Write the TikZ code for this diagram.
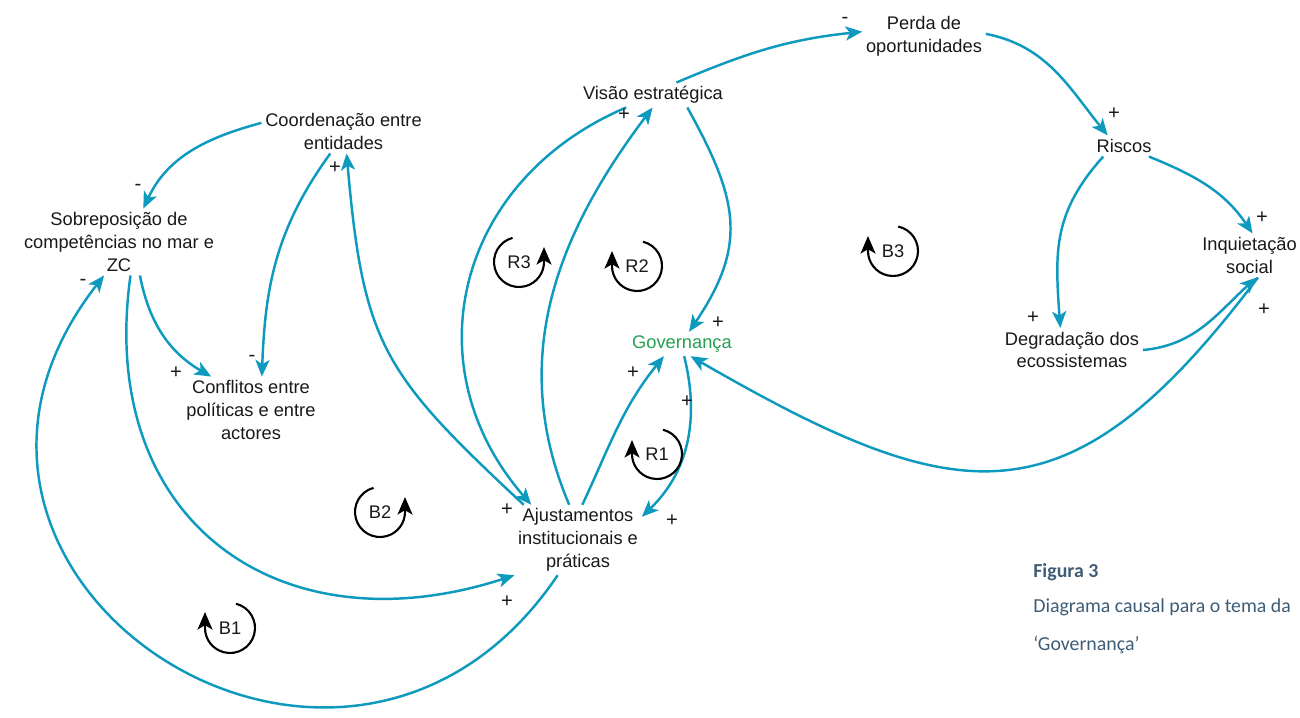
\documentclass[tikz,border=0pt]{standalone}
\usepackage{fontspec}
\setmainfont{Liberation Sans}
\newfontfamily\capfont{Carlito}
\usetikzlibrary{arrows.meta}
\definecolor{linkblue}{RGB}{14,154,190}
\definecolor{govgreen}{RGB}{35,160,80}
\definecolor{capblue}{RGB}{62,92,118}

\begin{document}
\begin{tikzpicture}[
    var/.style={align=center, inner sep=2pt, font=\fontsize{10.4}{13}\selectfont, text=black!90},
    link/.style={-{Stealth[length=9.5pt,width=8pt,inset=2.5pt]}, line width=1.4pt, draw=linkblue},
    sign/.style={font=\fontsize{11.5}{13}\selectfont, inner sep=0pt, text=black!90},
    loopname/.style={font=\fontsize{10.4}{13}\selectfont, inner sep=0pt, text=black!90},
    looparrow/.style={-{Stealth[length=10pt,width=8.5pt,inset=2.5pt]}, line width=1.2pt},
    capline/.style={anchor=west, inner sep=0pt, text=capblue, font=\capfont\fontsize{11.3}{13}\selectfont}
]
\useasboundingbox (0,0) rectangle (26,-14.34);

% Variables
\node[var] (coord) at (6.87,-2.63) {Coordenação entre\\entidades};
\node[var] (sobre) at (2.38,-4.84) {Sobreposição de\\competências no mar e\\ZC};
\node[var] (conf) at (5.02,-8.20) {Conflitos entre\\políticas e entre\\actores};
\node[var] (visao) at (13.06,-1.90) {Visão estratégica};
\node[var] (perda) at (18.48,-0.72) {Perda de\\oportunidades};
\node[var] (riscos) at (22.48,-2.92) {Riscos};
\node[var] (inq) at (24.99,-5.11) {Inquietação\\social};
\node[var] (degr) at (21.44,-7.00) {Degradação dos\\ecossistemas};
\node[var, text=govgreen] (gov) at (13.64,-6.88) {Governança};
\node[var] (ajust) at (11.56,-10.80) {Ajustamentos\\institucionais e\\práticas};

% Causal links
\draw[link] (coord.174) to[out=195,in=65] (sobre.54);
\draw[link] (coord.239) to[out=234,in=88] (conf.72);
\draw[link] (ajust.147) to[out=137,in=-85,looseness=1.25] (coord.278);
\draw[link] (visao.205) to[out=203,in=131,looseness=1.15] (ajust.143);
\draw[link] (ajust.104) to[out=113,in=233] (visao.268);
\draw[link] (visao.-20) to[out=-61,in=56,looseness=1.2] (gov.60);
\draw[link] (visao.28) to[out=23,in=186] (perda.176);
\draw[link] (perda.2) to[out=-11,in=129] (riscos.147);
\draw[link] (riscos.-23) to[out=-22,in=124] (inq.82);
\draw[link] (riscos.207) to[out=228,in=94,looseness=1.1] (degr.118);
\draw[link] (degr.0) to[out=5,in=222] (inq.-72);
\draw[link] (inq.-69) to[out=233,in=-30,looseness=1.4] (gov.-55);
\draw[link] (gov.-80) to[out=-76,in=44] (ajust.20);
\draw[link] (ajust.83) to[out=65,in=231] (gov.214);
\draw[link] (sobre.-58) to[out=-79,in=150] (conf.140);
\draw[link] (sobre.-71) to[out=262,in=198,looseness=1.3] (ajust.209);
\draw[link] (ajust.240) to[out=236,in=232,looseness=1.8] (sobre.246);

% Polarities
\node[sign] (s1) at (2.76,-3.74) {-};
\node[sign] (s2) at (5.04,-7.16) {-};
\node[sign] (s3) at (6.70,-3.36) {+};
\node[sign] (s4) at (10.14,-10.20) {+};
\node[sign] (s5) at (12.48,-2.30) {+};
\node[sign] (s6) at (14.36,-6.46) {+};
\node[sign] (s7) at (16.90,-0.40) {-};
\node[sign] (s8) at (22.28,-2.28) {+};
\node[sign] (s9) at (25.24,-4.36) {+};
\node[sign] (s10) at (20.66,-6.36) {+};
\node[sign] (s11) at (25.28,-6.20) {+};
\node[sign] (s12) at (13.74,-8.04) {+};
\node[sign] (s13) at (13.44,-10.42) {+};
\node[sign] (s14) at (12.66,-7.46) {+};
\node[sign] (s15) at (3.52,-7.46) {+};
\node[sign] (s16) at (10.14,-12.04) {+};
\node[sign] (s17) at (1.66,-5.64) {-};

% Loop markers
\node[loopname] (r3) at (10.38,-5.24) {R3};
\draw[looparrow] ([shift={(105:0.5)}]r3.center) arc[start angle=105, end angle=360, radius=0.5] -- ++(0,0.3);
\node[loopname] (r2) at (12.74,-5.32) {R2};
\draw[looparrow] ([shift={(76:0.5)}]r2.center) arc[start angle=76, end angle=-180, radius=0.5] -- ++(0,0.3);
\node[loopname] (b3) at (17.86,-5.02) {B3};
\draw[looparrow] ([shift={(78:0.5)}]b3.center) arc[start angle=78, end angle=-180, radius=0.5] -- ++(0,0.3);
\node[loopname] (r1) at (13.14,-9.08) {R1};
\draw[looparrow] ([shift={(76:0.5)}]r1.center) arc[start angle=76, end angle=-180, radius=0.5] -- ++(0,0.28);
\node[loopname] (b2) at (7.60,-10.24) {B2};
\draw[looparrow] ([shift={(105:0.5)}]b2.center) arc[start angle=105, end angle=360, radius=0.5] -- ++(0,0.3);
\node[loopname] (b1) at (4.60,-12.56) {B1};
\draw[looparrow] ([shift={(76:0.5)}]b1.center) arc[start angle=76, end angle=-180, radius=0.5] -- ++(0,0.32);

% Caption
\node[capline, font=\capfont\bfseries\fontsize{11.3}{13}\selectfont] (fig) at (20.66,-11.44) {Figura 3};
\node[capline] (cap1) at (20.66,-12.14) {Diagrama causal para o tema da};
\node[capline] (cap2) at (20.66,-12.90) {‘Governança’};

\end{tikzpicture}
\end{document}
